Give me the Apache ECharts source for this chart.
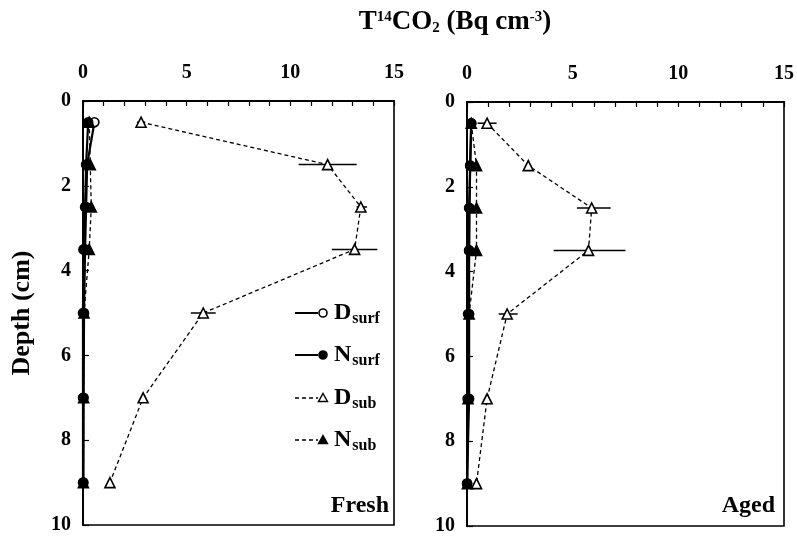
<!DOCTYPE html>
<html>
<head>
<meta charset="utf-8">
<script src="https://cdn.jsdelivr.net/npm/echarts@6/dist/echarts.min.js"></script>
<style>
  html, body { margin: 0; padding: 0; background: #fff; }
  #chart { width: 797px; height: 537px; }
</style>
</head>
<body>
<div id="chart"></div>
<script>
// Sampling depths (cm)
const depths = [0.5, 1.5, 2.5, 3.5, 5, 7, 9];

// Fresh soil: T14CO2 (Bq cm-3)
const freshDsurf = [0.55, 0.2, 0.15, 0.1, 0.05, 0.03, 0.02];
const freshNsurf = [0.25, 0.15, 0.1, 0.02, 0.0, 0.0, 0.0];
const freshDsub  = [2.8, 11.8, 13.4, 13.1, 5.8, 2.9, 1.3];
const freshNsub  = [0.3, 0.35, 0.4, 0.3, 0.05, 0.03, 0.02];
// Fresh D_sub error bars: [depth, low, high]
const freshDsubErr = [[0.5, 2.6, 3.0], [1.5, 10.4, 13.2], [2.5, 13.2, 13.7], [3.5, 12.0, 14.2], [5, 5.2, 6.4]];

// Aged soil: T14CO2 (Bq cm-3)
const agedDsurf = [0.2, 0.15, 0.1, 0.1, 0.05, 0.03, 0.01];
const agedNsurf = [0.2, 0.15, 0.12, 0.1, 0.1, 0.1, 0.0];
const agedDsub  = [0.95, 2.9, 5.9, 5.75, 1.9, 0.95, 0.45];
const agedNsub  = [0.2, 0.45, 0.45, 0.45, 0.1, 0.05, 0.02];
// Aged D_sub error bars: [depth, low, high]
const agedDsubErr = [[0.5, 0.5, 1.4], [2.5, 5.2, 6.8], [3.5, 4.1, 7.5], [5, 1.5, 2.4]];

// Axis ranges and labels
const xMin = 0, xMax = 15, xLabelStep = 5;
const yMin = 0, yMax = 10, yStep = 2;

const panelLabels = ['Fresh', 'Aged'];
const legendNames = [['D', 'surf'], ['N', 'surf'], ['D', 'sub'], ['N', 'sub']];

const serif = '"Liberation Serif", "DejaVu Serif", serif';

const pair = (xs) => xs.map((v, i) => [v, depths[i]]);

function makeAxes(idx) {
  return {
    x: {
      type: 'value', gridIndex: idx, position: 'top', min: xMin, max: xMax, interval: 1,
      axisLine: { show: true, lineStyle: { color: '#000', width: 2 } },
      axisTick: { show: true, inside: true, length: 5, lineStyle: { color: '#000', width: 1.2 } },
      axisLabel: {
        show: true, margin: 18, color: '#000', fontFamily: serif, fontWeight: 'bold', fontSize: 20,
        formatter: (v) => (v % xLabelStep === 0 ? String(v) : '')
      },
      splitLine: { show: false }
    },
    y: {
      type: 'value', gridIndex: idx, inverse: true, min: yMin, max: yMax, interval: yStep,
      axisLine: { show: true, lineStyle: { color: '#000', width: 2 } },
      axisTick: { show: true, inside: true, length: 6, lineStyle: { color: '#000', width: 1.2 } },
      axisLabel: { show: true, margin: 12, color: '#000', fontFamily: serif, fontWeight: 'bold', fontSize: 20 },
      splitLine: { show: false }
    }
  };
}

const a0 = makeAxes(0), a1 = makeAxes(1);

function lineSeries(name, values, idx, solid, symbol, filled) {
  return {
    name, type: 'line', xAxisIndex: idx, yAxisIndex: idx,
    data: pair(values),
    symbol, symbolSize: symbol === 'triangle' ? 10 : 9,
    showSymbol: true,
    lineStyle: { color: '#000', width: solid ? 2.2 : 1.3, type: solid ? 'solid' : [4, 3] },
    itemStyle: { color: filled ? '#000' : '#fff', borderColor: '#000', borderWidth: 1.6 },
    z: solid ? 3 : 4,
    animation: false
  };
}

function errSeries(errs, idx) {
  return {
    type: 'custom', xAxisIndex: idx, yAxisIndex: idx,
    data: errs,
    renderItem: (params, api) => {
      const d = api.value(0), lo = api.value(1), hi = api.value(2);
      const p1 = api.coord([lo, d]), p2 = api.coord([hi, d]);
      return {
        type: 'line',
        shape: { x1: p1[0], y1: p1[1], x2: p2[0], y2: p2[1] },
        style: { stroke: '#000', lineWidth: 1.5 }
      };
    },
    encode: { x: [1, 2], y: 0 },
    z: 2, silent: true, animation: false
  };
}

// Hand-drawn legend inside the Fresh panel
const legendGraphics = [];
const legendY = [313, 355, 398, 440];
legendNames.forEach((nm, i) => {
  const y = legendY[i];
  const solid = i < 2;
  legendGraphics.push({
    type: 'line', shape: { x1: 295, y1: y, x2: 318, y2: y },
    style: { stroke: '#000', lineWidth: solid ? 2 : 1.3, lineDash: solid ? null : [4, 3] }
  });
  if (i < 2) {
    legendGraphics.push({
      type: 'circle', shape: { cx: 323, cy: y, r: 4 },
      style: { fill: i === 0 ? '#fff' : '#000', stroke: '#000', lineWidth: 1.6 }
    });
  } else {
    legendGraphics.push({
      type: 'polygon', shape: { points: [[323, y - 4.5], [327.5, y + 3.5], [318.5, y + 3.5]] },
      style: { fill: i === 2 ? '#fff' : '#000', stroke: '#000', lineWidth: 1.4 }
    });
  }
  legendGraphics.push({
    type: 'text', x: 334, y: y,
    style: {
      text: '{b|' + nm[0] + '}{s|' + nm[1] + '}',
      verticalAlign: 'middle',
      rich: {
        b: { fontFamily: serif, fontWeight: 'bold', fontSize: 24, fill: '#000', lineHeight: 30, verticalAlign: 'middle' },
        s: { fontFamily: serif, fontWeight: 'bold', fontSize: 16, fill: '#000', lineHeight: 30, padding: [12, 0, 0, 1] }
      }
    }
  });
});

const option = {
  backgroundColor: '#fff',
  animation: false,
  title: {
    text: 'T{sup|14}CO{sub|2} (Bq cm{sup|-3})',
    left: 450, top: 4, textAlign: 'center',
    textStyle: {
      fontFamily: serif, fontWeight: 'bold', fontSize: 27, color: '#000',
      rich: {
        sup: { fontFamily: serif, fontWeight: 'bold', fontSize: 15, color: '#000', padding: [0, 0, 11, 0] },
        sub: { fontFamily: serif, fontWeight: 'bold', fontSize: 15, color: '#000', padding: [12, 0, 0, 0] }
      }
    }
  },
  grid: [
    { left: 83, top: 101, width: 311, height: 424, show: true, borderColor: '#000', borderWidth: 1.6, backgroundColor: 'transparent' },
    { left: 467, top: 102, width: 318, height: 424, show: true, borderColor: '#000', borderWidth: 1.6, backgroundColor: 'transparent' }
  ],
  xAxis: [a0.x, a1.x],
  yAxis: [a0.y, a1.y],
  series: [
    errSeries(freshDsubErr, 0),
    lineSeries('Dsurf', freshDsurf, 0, true, 'circle', false),
    lineSeries('Nsurf', freshNsurf, 0, true, 'circle', true),
    lineSeries('Dsub', freshDsub, 0, false, 'triangle', false),
    lineSeries('Nsub', freshNsub, 0, false, 'triangle', true),
    errSeries(agedDsubErr, 1),
    lineSeries('Dsurf', agedDsurf, 1, true, 'circle', false),
    lineSeries('Nsurf', agedNsurf, 1, true, 'circle', true),
    lineSeries('Dsub', agedDsub, 1, false, 'triangle', false),
    lineSeries('Nsub', agedNsub, 1, false, 'triangle', true)
  ],
  graphic: [
    {
      type: 'text', x: 22, y: 313, rotation: Math.PI / 2,
      style: { text: 'Depth (cm)', fontFamily: serif, fontWeight: 'bold', fontSize: 26, fill: '#000', align: 'center', verticalAlign: 'middle' }
    },
    {
      type: 'text', x: 389, y: 506,
      style: { text: panelLabels[0], fontFamily: serif, fontWeight: 'bold', fontSize: 24, fill: '#000', align: 'right', verticalAlign: 'middle' }
    },
    {
      type: 'text', x: 775, y: 506,
      style: { text: panelLabels[1], fontFamily: serif, fontWeight: 'bold', fontSize: 24, fill: '#000', align: 'right', verticalAlign: 'middle' }
    },
    ...legendGraphics
  ]
};

const chart = echarts.init(document.getElementById('chart'), null, { renderer: 'canvas' });
chart.setOption(option);
</script>
</body>
</html>
